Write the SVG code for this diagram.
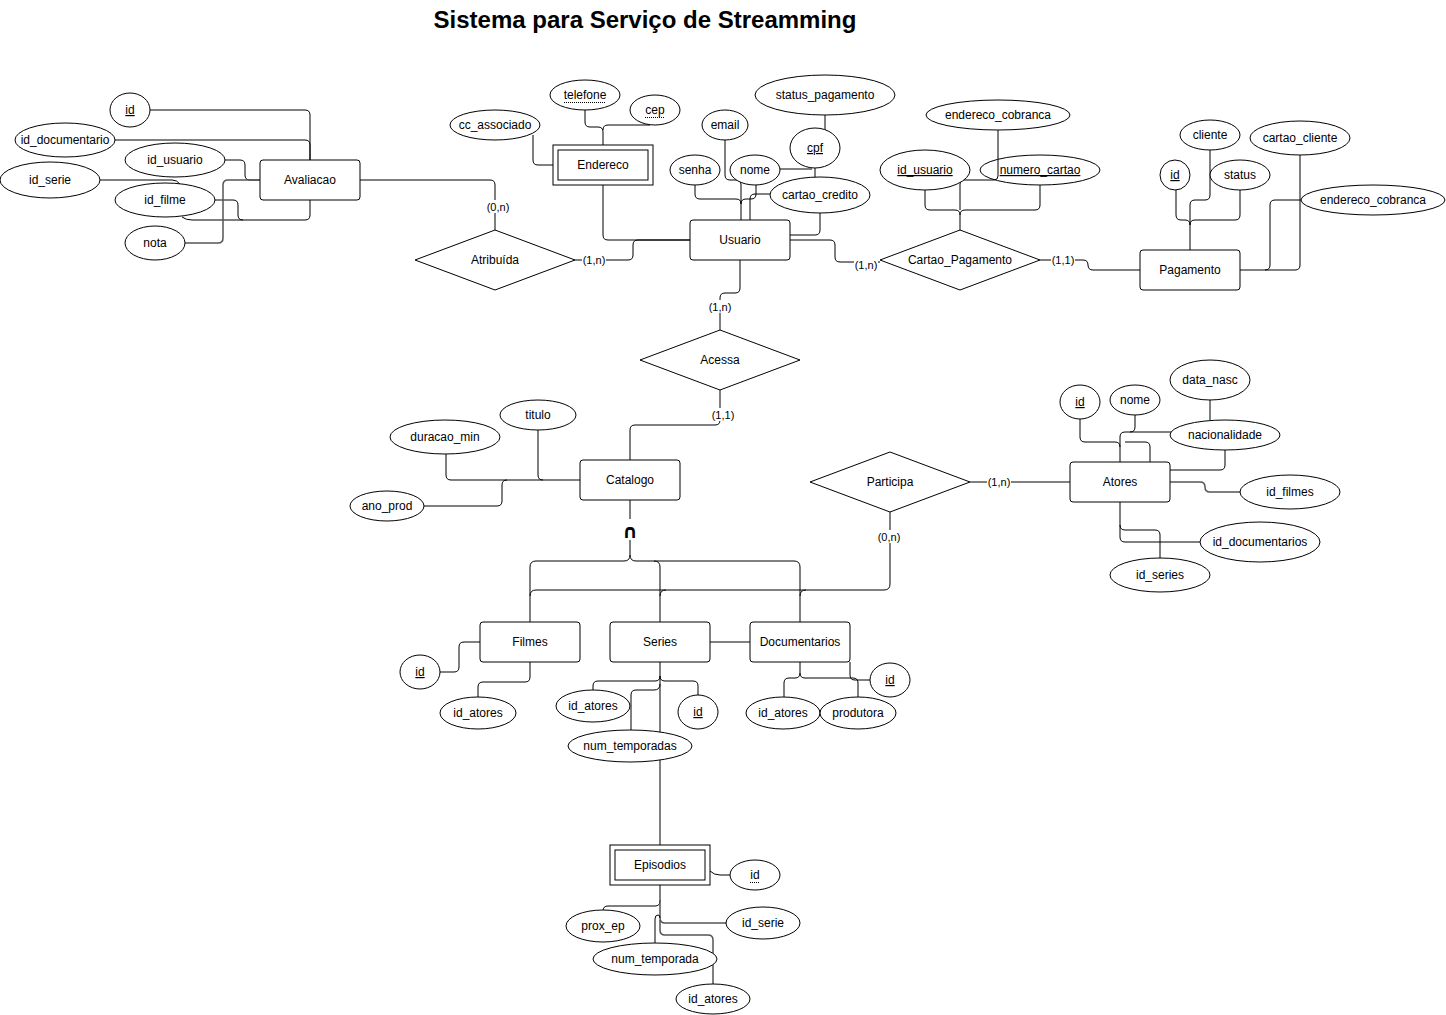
<svg xmlns="http://www.w3.org/2000/svg" width="1446" height="1015" viewBox="0 0 1446 1015">
<style>
text{font-family:"Liberation Sans",Arial,Helvetica,sans-serif;font-size:12px;fill:#000;text-anchor:middle}
.title{font-size:24px;font-weight:bold}
.lbl{font-size:11px}
.u{text-decoration:underline}
.ent rect{fill:#fff;stroke:#000;stroke-width:1}
.attr ellipse{fill:#fff;stroke:#000;stroke-width:1}
.rel polygon{fill:#fff;stroke:#000;stroke-width:1}
#connectors path{fill:none;stroke:#000;stroke-width:1}
#connectors path.g{stroke:#555;stroke-width:1.5}
.dot{stroke:#000;stroke-width:1;stroke-dasharray:1,1}
.lblbg{fill:#fff}
.cap{font-family:"DejaVu Sans",sans-serif;font-size:19px;font-weight:bold}
</style>
<rect x="0" y="0" width="1446" height="1015" fill="#fff"/>
<text class="title" x="645" y="28">Sistema para Serviço de Streamming</text>

<g id="connectors">
<!-- Avaliacao -->
<path d="M150,110 H305 Q310,110 310,115 V160"/>
<path d="M115,140 H305 Q310,140 310,145 V160"/>
<path d="M225,160 H240 Q245,160 245,165 V175 Q245,180 250,180 H260"/>
<path d="M100,180 H172 Q177,180 180,184"/>
<path d="M215,200 H233 Q238,200 238,205 V215 Q238,220 243,220 H305 Q310,220 310,215 V200"/>
<path d="M182,217 Q186,220 192,220 H243"/>
<path class="g" d="M185,243 H218 Q223,243 223,238 V185 Q223,180 228,180 H260"/>
<path d="M360,180 H490 Q495,180 495,185 V230"/>
<!-- Atribuida - Usuario -->
<path d="M575,260 H628 Q633,260 633,255 V245 Q633,240 638,240 H690"/>
<!-- Endereco -->
<path d="M585,110 V122 Q585,127 590,127 H598 Q603,127 603,132 V145"/>
<path d="M650,125 H608 Q603,125 603,130"/>
<path d="M533,135 V160 Q533,165 538,165 H553"/>
<path d="M603,185 V235 Q603,240 608,240 H690"/>
<!-- Usuario attributes -->
<path d="M725,140 V175 Q725,180 730,180 H736 Q741,180 741,185 V220"/>
<path d="M695,185 V194 Q695,199 700,199 H736 Q741,199 741,204"/>
<path d="M756,185 V194 Q756,199 751,199 H746 Q741,199 741,204"/>
<path d="M770,194 H755 Q750,194 750,199 V220"/>
<path d="M825,115 V135"/>
<path d="M815,165 V180"/>
<path class="g" d="M780,169 H812"/>
<path d="M820,213 V230 Q820,235 815,235 H790"/>
<!-- Usuario - Cartao_Pagamento -->
<path d="M790,240 H830 Q835,240 835,245 V257 Q835,262 840,262 H880"/>
<!-- Usuario - Acessa -->
<path d="M740,260 V288 Q740,293 735,293 H725 Q720,293 720,298 V330"/>
<!-- Acessa - Catalogo -->
<path d="M720,390 V420 Q720,425 715,425 H635 Q630,425 630,430 V460"/>
<!-- Cartao_Pagamento attributes -->
<path d="M925,190 V205 Q925,210 930,210 H955 Q960,210 960,215 V230"/>
<path d="M1040,185 V205 Q1040,210 1035,210 H965 Q960,210 960,215"/>
<path d="M998,130 V176 Q998,180 994,180 H964 Q960,180 960,184 V210"/>
<!-- Cartao_Pagamento - Pagamento -->
<path d="M1040,260 H1083 Q1088,260 1088,265 Q1088,270 1093,270 H1140"/>
<!-- Pagamento attributes -->
<path d="M1176,190 V215 Q1176,220 1181,220 H1185 Q1190,220 1190,225 V250"/>
<path d="M1210,150 V195 Q1210,200 1205,200 H1195 Q1190,200 1190,205 V225"/>
<path d="M1240,190 V215 Q1240,220 1235,220 H1195 Q1190,220 1190,225"/>
<path d="M1300,155 V265 Q1300,270 1295,270 H1240"/>
<path d="M1301,200 H1275 Q1270,200 1270,205 V265 Q1270,270 1265,270"/>
<!-- Catalogo attributes -->
<path d="M538,430 V475 Q538,480 543,480 H580"/>
<path d="M446,454 V475 Q446,480 451,480 H543"/>
<path d="M424,506 H497 Q502,506 502,501 V485 Q502,480 507,480"/>
<!-- Catalogo specialisation -->
<path d="M630,500 V519"/>
<path d="M630,540 V555 Q630,561 624,561 H536 Q530,561 530,567 V622"/>
<path d="M630,555 Q630,561 636,561 H654 Q660,561 660,567 V622"/>
<path d="M654,561 H794 Q800,561 800,567 V622"/>
<path d="M890,512 V584 Q890,590 884,590 H536 Q530,590 530,596"/>
<path d="M666,590 Q660,590 660,596"/>
<path d="M806,590 Q800,590 800,596"/>
<!-- Participa - Atores -->
<path d="M970,482 H1070"/>
<!-- Atores attributes -->
<path d="M1080,419 V437 Q1080,442 1085,442 H1115 Q1120,442 1120,447 V462"/>
<path d="M1135,415 V427 Q1135,432 1130,432 H1125 Q1120,432 1120,437 V447"/>
<path d="M1171,432 H1130"/>
<path d="M1150,462 V447 Q1150,442 1145,442 H1125"/>
<path d="M1210,400 V420"/>
<path d="M1225,450 V465 Q1225,470 1220,470 H1170"/>
<path class="g" d="M1170,482 H1200 Q1205,482 1205,487 Q1205,492 1210,492 H1240"/>
<path d="M1120,502 V537 Q1120,542 1125,542 H1200"/>
<path d="M1120,525 Q1120,530 1125,530 H1155 Q1160,530 1160,535 V558"/>
<!-- Filmes -->
<path d="M440,672 H454 Q459,672 459,667 V647 Q459,642 464,642 H480"/>
<path d="M530,662 V677 Q530,682 525,682 H483 Q478,682 478,687 V697"/>
<!-- Series -->
<path d="M660,662 V845"/>
<path d="M660,676 Q660,681 655,681 H598 Q593,681 593,686 V690"/>
<path d="M660,676 Q660,681 665,681 H693 Q698,681 698,686 V695"/>
<path d="M660,684 Q660,690 654,690 H636 Q631,690 631,695 V730"/>
<path d="M710,642 H750"/>
<!-- Documentarios -->
<path d="M800,662 V673 Q800,678 795,678 H789 Q784,678 784,683 V697"/>
<path d="M800,673 Q800,678 805,678 H853 Q858,678 858,683 V697"/>
<path d="M850,662 V675 Q850,680 855,680 H870"/>
<!-- Episodios -->
<path d="M710,871 Q714,875 720,875 H730"/>
<path d="M660,885 V901 Q660,906 655,906 H608 Q603,906 603,911"/>
<path class="g" d="M660,900 V918 Q660,923 665,923 H726"/>
<path d="M655,943 V919 Q655,915 658,915 Q660,915 660,918"/>
<path class="g" d="M660,920 V930 Q660,935 665,935 H708 Q713,935 713,940 V984"/>
</g>

<g id="cardinalities">
<rect class="lblbg" x="486" y="200" width="24" height="13"/><text class="lbl" x="498" y="211">(0,n)</text>
<rect class="lblbg" x="582" y="253" width="24" height="13"/><text class="lbl" x="594" y="264">(1,n)</text>
<rect class="lblbg" x="854" y="258" width="24" height="13"/><text class="lbl" x="866" y="269">(1,n)</text>
<rect class="lblbg" x="708" y="300" width="24" height="13"/><text class="lbl" x="720" y="311">(1,n)</text>
<rect class="lblbg" x="711" y="408" width="24" height="13"/><text class="lbl" x="723" y="419">(1,1)</text>
<rect class="lblbg" x="1051" y="253" width="24" height="13"/><text class="lbl" x="1063" y="264">(1,1)</text>
<rect class="lblbg" x="987" y="475" width="24" height="13"/><text class="lbl" x="999" y="486">(1,n)</text>
<rect class="lblbg" x="877" y="530" width="24" height="13"/><text class="lbl" x="889" y="541">(0,n)</text>
<text class="cap" x="630" y="538">∩</text>
</g>

<!-- Relationships -->
<g id="atribuida" class="rel"><polygon points="415,260 495,230 575,260 495,290"/><text x="495" y="264">Atribuída</text></g>
<g id="cartao_pagamento" class="rel"><polygon points="880,260 960,230 1040,260 960,290"/><text x="960" y="264">Cartao_Pagamento</text></g>
<g id="acessa" class="rel"><polygon points="640,360 720,330 800,360 720,390"/><text x="720" y="364">Acessa</text></g>
<g id="participa" class="rel"><polygon points="810,482 890,452 970,482 890,512"/><text x="890" y="486">Participa</text></g>

<!-- Entities -->
<g id="avaliacao" class="ent"><rect x="260" y="160" width="100" height="40" rx="3"/><text x="310" y="184">Avaliacao</text></g>
<g id="usuario" class="ent"><rect x="690" y="220" width="100" height="40" rx="3"/><text x="740" y="244">Usuario</text></g>
<g id="endereco" class="ent"><rect x="553" y="145" width="100" height="40"/><rect x="558" y="150" width="90" height="30"/><text x="603" y="169">Endereco</text></g>
<g id="pagamento" class="ent"><rect x="1140" y="250" width="100" height="40" rx="3"/><text x="1190" y="274">Pagamento</text></g>
<g id="catalogo" class="ent"><rect x="580" y="460" width="100" height="40" rx="3"/><text x="630" y="484">Catalogo</text></g>
<g id="atores" class="ent"><rect x="1070" y="462" width="100" height="40" rx="3"/><text x="1120" y="486">Atores</text></g>
<g id="filmes" class="ent"><rect x="480" y="622" width="100" height="40" rx="3"/><text x="530" y="646">Filmes</text></g>
<g id="series" class="ent"><rect x="610" y="622" width="100" height="40" rx="3"/><text x="660" y="646">Series</text></g>
<g id="documentarios" class="ent"><rect x="750" y="622" width="100" height="40" rx="3"/><text x="800" y="646">Documentarios</text></g>
<g id="episodios" class="ent"><rect x="610" y="845" width="100" height="40"/><rect x="615" y="850" width="90" height="30"/><text x="660" y="869">Episodios</text></g>

<!-- Attributes: Avaliacao -->
<g id="av_id" class="attr"><ellipse cx="130" cy="110" rx="20" ry="17"/><text class="u" x="130" y="114">id</text></g>
<g id="av_id_documentario" class="attr"><ellipse cx="65" cy="140" rx="50" ry="17"/><text x="65" y="144">id_documentario</text></g>
<g id="av_id_usuario" class="attr"><ellipse cx="175" cy="160" rx="50" ry="17"/><text x="175" y="164">id_usuario</text></g>
<g id="av_id_serie" class="attr"><ellipse cx="50" cy="180" rx="50" ry="18"/><text x="50" y="184">id_serie</text></g>
<g id="av_id_filme" class="attr"><ellipse cx="165" cy="200" rx="50" ry="17"/><text x="165" y="204">id_filme</text></g>
<g id="av_nota" class="attr"><ellipse cx="155" cy="243" rx="30" ry="17"/><text x="155" y="247">nota</text></g>

<!-- Attributes: Endereco -->
<g id="en_telefone" class="attr"><ellipse cx="585" cy="95" rx="35" ry="15"/><text x="585" y="99">telefone</text><line class="dot" x1="564" y1="102.5" x2="606" y2="102.5"/></g>
<g id="en_cep" class="attr"><ellipse cx="655" cy="110" rx="25" ry="15"/><text x="655" y="114">cep</text><line class="dot" x1="645" y1="117.5" x2="665" y2="117.5"/></g>
<g id="en_cc_associado" class="attr"><ellipse cx="495" cy="125" rx="45" ry="15"/><text x="495" y="129">cc_associado</text></g>

<!-- Attributes: Usuario -->
<g id="us_email" class="attr"><ellipse cx="725" cy="125" rx="23" ry="15"/><text x="725" y="129">email</text></g>
<g id="us_senha" class="attr"><ellipse cx="695" cy="170" rx="25" ry="15"/><text x="695" y="174">senha</text></g>
<g id="us_nome" class="attr"><ellipse cx="755" cy="170" rx="25" ry="15"/><text x="755" y="174">nome</text></g>
<g id="us_status_pagamento" class="attr"><ellipse cx="825" cy="95" rx="70" ry="20"/><text x="825" y="99">status_pagamento</text></g>
<g id="us_cpf" class="attr"><ellipse cx="815" cy="148" rx="25" ry="20"/><text class="u" x="815" y="152">cpf</text></g>
<g id="us_cartao_credito" class="attr"><ellipse cx="820" cy="195" rx="50" ry="18"/><text x="820" y="199">cartao_credito</text></g>

<!-- Attributes: Cartao_Pagamento -->
<g id="cp_endereco_cobranca" class="attr"><ellipse cx="998" cy="115" rx="72" ry="15"/><text x="998" y="119">endereco_cobranca</text></g>
<g id="cp_id_usuario" class="attr"><ellipse cx="925" cy="170" rx="45" ry="20"/><text class="u" x="925" y="174">id_usuario</text></g>
<g id="cp_numero_cartao" class="attr"><ellipse cx="1040" cy="170" rx="60" ry="15" style="fill:none"/><text class="u" x="1040" y="174">numero_cartao</text></g>

<!-- Attributes: Pagamento -->
<g id="pg_id" class="attr"><ellipse cx="1175" cy="175" rx="15" ry="15"/><text class="u" x="1175" y="179">id</text></g>
<g id="pg_cliente" class="attr"><ellipse cx="1210" cy="135" rx="30" ry="15"/><text x="1210" y="139">cliente</text></g>
<g id="pg_status" class="attr"><ellipse cx="1240" cy="175" rx="30" ry="15"/><text x="1240" y="179">status</text></g>
<g id="pg_cartao_cliente" class="attr"><ellipse cx="1300" cy="138" rx="50" ry="17"/><text x="1300" y="142">cartao_cliente</text></g>
<g id="pg_endereco_cobranca" class="attr"><ellipse cx="1373" cy="200" rx="72" ry="15"/><text x="1373" y="204">endereco_cobranca</text></g>

<!-- Attributes: Catalogo -->
<g id="ca_titulo" class="attr"><ellipse cx="538" cy="415" rx="38" ry="15"/><text x="538" y="419">titulo</text></g>
<g id="ca_duracao_min" class="attr"><ellipse cx="445" cy="437" rx="55" ry="17"/><text x="445" y="441">duracao_min</text></g>
<g id="ca_ano_prod" class="attr"><ellipse cx="387" cy="506" rx="37" ry="15"/><text x="387" y="510">ano_prod</text></g>

<!-- Attributes: Atores -->
<g id="at_id" class="attr"><ellipse cx="1080" cy="402" rx="20" ry="17"/><text class="u" x="1080" y="406">id</text></g>
<g id="at_nome" class="attr"><ellipse cx="1135" cy="400" rx="25" ry="15"/><text x="1135" y="404">nome</text></g>
<g id="at_data_nasc" class="attr"><ellipse cx="1210" cy="380" rx="40" ry="20"/><text x="1210" y="384">data_nasc</text></g>
<g id="at_nacionalidade" class="attr"><ellipse cx="1225" cy="435" rx="55" ry="15"/><text x="1225" y="439">nacionalidade</text></g>
<g id="at_id_filmes" class="attr"><ellipse cx="1290" cy="492" rx="50" ry="17"/><text x="1290" y="496">id_filmes</text></g>
<g id="at_id_documentarios" class="attr"><ellipse cx="1260" cy="542" rx="60" ry="20"/><text x="1260" y="546">id_documentarios</text></g>
<g id="at_id_series" class="attr"><ellipse cx="1160" cy="575" rx="50" ry="17"/><text x="1160" y="579">id_series</text></g>

<!-- Attributes: Filmes -->
<g id="fi_id" class="attr"><ellipse cx="420" cy="672" rx="20" ry="17"/><text class="u" x="420" y="676">id</text></g>
<g id="fi_id_atores" class="attr"><ellipse cx="478" cy="713" rx="38" ry="16"/><text x="478" y="717">id_atores</text></g>

<!-- Attributes: Series -->
<g id="se_id_atores" class="attr"><ellipse cx="593" cy="706" rx="37" ry="16"/><text x="593" y="710">id_atores</text></g>
<g id="se_id" class="attr"><ellipse cx="698" cy="712" rx="20" ry="17"/><text class="u" x="698" y="716">id</text></g>
<g id="se_num_temporadas" class="attr"><ellipse cx="630" cy="746" rx="62" ry="16"/><text x="630" y="750">num_temporadas</text></g>

<!-- Attributes: Documentarios -->
<g id="do_id_atores" class="attr"><ellipse cx="783" cy="713" rx="37" ry="16"/><text x="783" y="717">id_atores</text></g>
<g id="do_produtora" class="attr"><ellipse cx="858" cy="713" rx="38" ry="16"/><text x="858" y="717">produtora</text></g>
<g id="do_id" class="attr"><ellipse cx="890" cy="680" rx="20" ry="17"/><text class="u" x="890" y="684">id</text></g>

<!-- Attributes: Episodios -->
<g id="ep_id" class="attr"><ellipse cx="755" cy="875" rx="25" ry="15"/><text x="755" y="879">id</text><line class="dot" x1="750" y1="882.5" x2="760" y2="882.5"/></g>
<g id="ep_prox_ep" class="attr"><ellipse cx="603" cy="926" rx="37" ry="16"/><text x="603" y="930">prox_ep</text></g>
<g id="ep_id_serie" class="attr"><ellipse cx="763" cy="923" rx="37" ry="16"/><text x="763" y="927">id_serie</text></g>
<g id="ep_num_temporada" class="attr"><ellipse cx="655" cy="959" rx="62" ry="16"/><text x="655" y="963">num_temporada</text></g>
<g id="ep_id_atores" class="attr"><ellipse cx="713" cy="999" rx="37" ry="15"/><text x="713" y="1003">id_atores</text></g>
</svg>
